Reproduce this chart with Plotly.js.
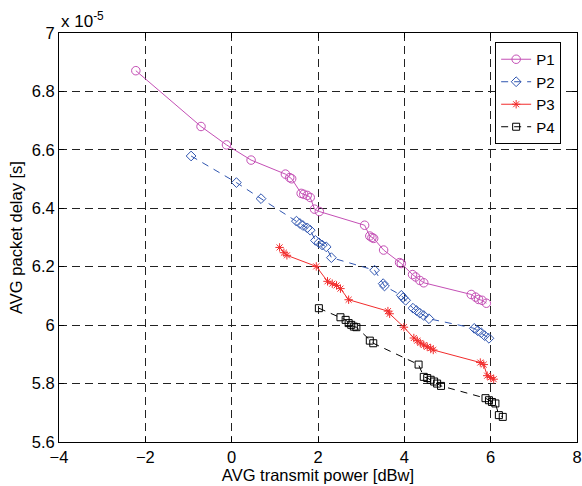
<!DOCTYPE html>
<html>
<head>
<meta charset="utf-8">
<script src="https://cdn.plot.ly/plotly-3.0.1.min.js"></script>
<style>body{margin:0;padding:0;background:#fff}#plot{width:582px;height:486px}</style>
</head>
<body>
<div id="plot"></div>
<script>
// values in units of 1e-5 s
const p1x = [-2.22, -0.71, -0.12, 0.45, 1.245, 1.345, 1.39, 1.61, 1.67, 1.75, 1.82, 1.92, 2.03, 3.08, 3.20, 3.25, 3.29, 3.52, 3.89, 3.93, 4.19, 4.26, 4.36, 4.45, 5.55, 5.65, 5.72, 5.80, 5.90];
const p1y = [6.871, 6.680, 6.617, 6.565, 6.517, 6.505, 6.501, 6.451, 6.448, 6.444, 6.437, 6.397, 6.389, 6.342, 6.305, 6.300, 6.297, 6.257, 6.214, 6.211, 6.173, 6.165, 6.153, 6.145, 6.105, 6.096, 6.088, 6.085, 6.075];

const p2x = [-0.94, 0.11, 0.68, 1.50, 1.58, 1.65, 1.75, 1.82, 1.94, 2.02, 2.10, 2.19, 2.31, 3.31, 3.51, 3.54, 3.93, 3.97, 4.03, 4.20, 4.28, 4.36, 4.45, 4.57, 5.62, 5.70, 5.78, 5.86, 5.96];
const p2y = [6.579, 6.488, 6.433, 6.356, 6.348, 6.341, 6.333, 6.325, 6.290, 6.282, 6.274, 6.268, 6.231, 6.188, 6.142, 6.134, 6.102, 6.094, 6.085, 6.058, 6.050, 6.041, 6.033, 6.022, 5.989, 5.981, 5.974, 5.964, 5.955];

const p3x = [1.11, 1.21, 1.28, 1.96, 2.22, 2.33, 2.43, 2.52, 2.71, 3.62, 3.66, 3.99, 4.22, 4.30, 4.37, 4.45, 4.53, 4.61, 4.67, 5.76, 5.84, 5.92, 6.00, 6.07];
const p3y = [6.266, 6.248, 6.239, 6.201, 6.150, 6.142, 6.136, 6.125, 6.087, 6.048, 6.039, 5.993, 5.956, 5.947, 5.939, 5.932, 5.926, 5.921, 5.915, 5.872, 5.865, 5.827, 5.821, 5.815];

const p4x = [2.02, 2.52, 2.64, 2.71, 2.77, 2.83, 2.89, 3.20, 3.28, 4.33, 4.45, 4.53, 4.61, 4.69, 4.76, 4.85, 5.88, 5.96, 6.03, 6.11, 6.19, 6.28];
const p4y = [6.058, 6.027, 6.018, 6.007, 6.001, 5.995, 5.993, 5.947, 5.938, 5.865, 5.823, 5.819, 5.813, 5.807, 5.800, 5.792, 5.750, 5.743, 5.737, 5.732, 5.692, 5.686];

const seriesNames = ['P1', 'P2', 'P3', 'P4'];
const xTicks = [-4, -2, 0, 2, 4, 6, 8];
const yTicks = [5.6, 5.8, 6, 6.2, 6.4, 6.6, 6.8, 7];
const yTickText = ['5.6', '5.8', '6', '6.2', '6.4', '6.6', '6.8', '7'];

const FONT = '"Liberation Sans", Arial, Helvetica, sans-serif';

const traces = [
  {x: p1x, y: p1y, name: seriesNames[0], mode: 'lines+markers',
   line: {color: '#c44fb5', width: 1},
   marker: {symbol: 'circle-open', size: 8.5, color: '#c44fb5', line: {width: 1}}},
  {x: p2x, y: p2y, name: seriesNames[1], mode: 'lines+markers',
   line: {color: '#2f55b0', width: 1, dash: '7px,6px'},
   marker: {symbol: 'diamond-open', size: 7.5, color: '#2f55b0', line: {width: 1}}},
  {x: p3x, y: p3y, name: seriesNames[2], mode: 'lines+markers',
   line: {color: '#f22c2c', width: 1},
   marker: {symbol: 'asterisk-open', size: 7, color: '#f22c2c', line: {width: 1, color: '#f22c2c'}}},
  {x: p4x, y: p4y, name: seriesNames[3], mode: 'lines+markers',
   line: {color: '#000000', width: 1, dash: '7px,6px'},
   marker: {symbol: 'square-open', size: 7, color: '#000000', line: {width: 1}}}
];

const axisCommon = {
  showline: true, linecolor: '#000', linewidth: 1, mirror: 'ticks',
  ticks: 'inside', ticklen: 5, tickcolor: '#000',
  showgrid: true, gridcolor: '#222', gridwidth: 1, griddash: '8px,5px',
  zeroline: false,
  tickfont: {family: FONT, size: 16.5, color: '#000'}
};

const layout = {
  width: 582, height: 486,
  margin: {l: 59, r: 5, t: 33, b: 44},
  paper_bgcolor: '#fff', plot_bgcolor: '#fff',
  showlegend: true,
  legend: {x: 0.842, y: 0.978, xanchor: 'left', yanchor: 'top',
           bgcolor: '#fff', bordercolor: '#000', borderwidth: 1,
           font: {family: FONT, size: 15, color: '#000'},
           tracegroupgap: 0, itemwidth: 30},
  xaxis: Object.assign({}, axisCommon, {
    range: [-4, 8], tickvals: xTicks,
    title: {text: 'AVG transmit power [dBw]', font: {family: FONT, size: 16.5, color: '#000'}, standoff: 0}
  }),
  yaxis: Object.assign({}, axisCommon, {
    range: [5.6, 7], tickvals: yTicks, ticktext: yTickText,
    title: {text: 'AVG packet delay [s]', font: {family: FONT, size: 16.5, color: '#000'}, standoff: 4}
  }),
  annotations: [{
    xref: 'paper', yref: 'paper', x: 0, y: 1, xanchor: 'left', yanchor: 'bottom',
    xshift: 0, yshift: 0, showarrow: false,
    text: 'x 10<sup>-5</sup>', font: {family: FONT, size: 17, color: '#000'}
  }]
};

Plotly.newPlot('plot', traces, layout, {displayModeBar: false, staticPlot: true});
</script>
</body>
</html>
